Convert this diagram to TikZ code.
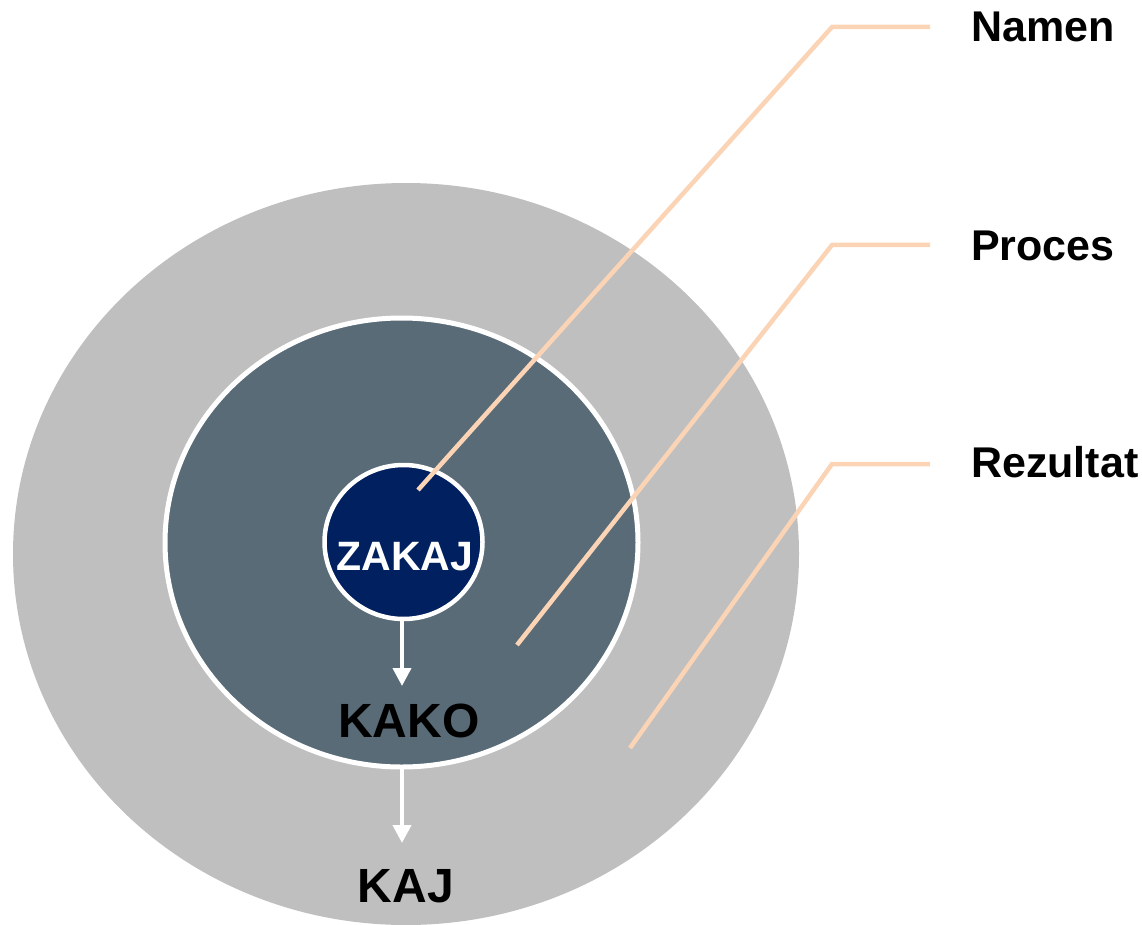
\documentclass[tikz,border=0pt]{standalone}
\usepackage{fontspec}
\setmainfont{Liberation Sans}
\usetikzlibrary{arrows.meta}
\definecolor{outergray}{HTML}{BFBFBF}
\definecolor{innerslate}{HTML}{596B77}
\definecolor{navy}{HTML}{002060}
\definecolor{peach}{HTML}{FBD4B6}
\tikzset{
  leader/.style={draw=peach, line width=4.5pt, line join=miter},
  flowarrow/.style={draw=white, line width=4pt, -{Triangle[width=18pt,length=18pt]}},
  lbl/.style={font=\bfseries\fontsize{43}{43}\selectfont, anchor=base west, inner sep=0pt, text=black},
  stage/.style={font=\bfseries\fontsize{48}{48}\selectfont, anchor=base, inner sep=0pt, text=black}
}
\begin{document}
\begin{tikzpicture}[x=1pt, y=-1pt]
\useasboundingbox (0,0) rectangle (1142,925);
% outer ellipse
\fill[outergray] (406,554) ellipse [x radius=393, y radius=371];
% inner ellipse
\filldraw[fill=innerslate, draw=white, line width=5pt] (401.5,542.5) ellipse [x radius=236.5, y radius=224.5];
% small circle
\filldraw[fill=navy, draw=white, line width=4.5pt] (403.5,542) ellipse [x radius=79, y radius=77];
\node[font=\bfseries\fontsize{41}{41}\selectfont, text=white, anchor=base, inner sep=0pt] (zakaj) at (405,570) {ZAKAJ};
% coordinates
\coordinate (zbot) at (402,620);
\coordinate (kakotip) at (402,686);
\coordinate (ibot) at (402,769);
\coordinate (kajtip) at (402,843);
\node[stage] (kako) at (409,737) {KAKO};
\node[stage] (kaj) at (406,902) {KAJ};
\draw[flowarrow] (zbot) -- (kakotip);
\draw[flowarrow] (ibot) -- (kajtip);
% labels
\node[lbl] (namen) at (971,42) {Namen};
\node[lbl] (proces) at (971,260) {Proces};
\node[lbl] (rez) at (971,477) {Rezultat};
% leader lines
\coordinate (n0) at (418,490);
\coordinate (n1) at (832,27);
\coordinate (n2) at (930,27);
\coordinate (p0) at (517,645);
\coordinate (p1) at (832,245);
\coordinate (p2) at (930,245);
\coordinate (r0) at (630,748);
\coordinate (r1) at (832,464);
\coordinate (r2) at (930,464);
\draw[leader] (n0) -- (n1) -- (n2);
\draw[leader] (p0) -- (p1) -- (p2);
\draw[leader] (r0) -- (r1) -- (r2);
\end{tikzpicture}
\end{document}
